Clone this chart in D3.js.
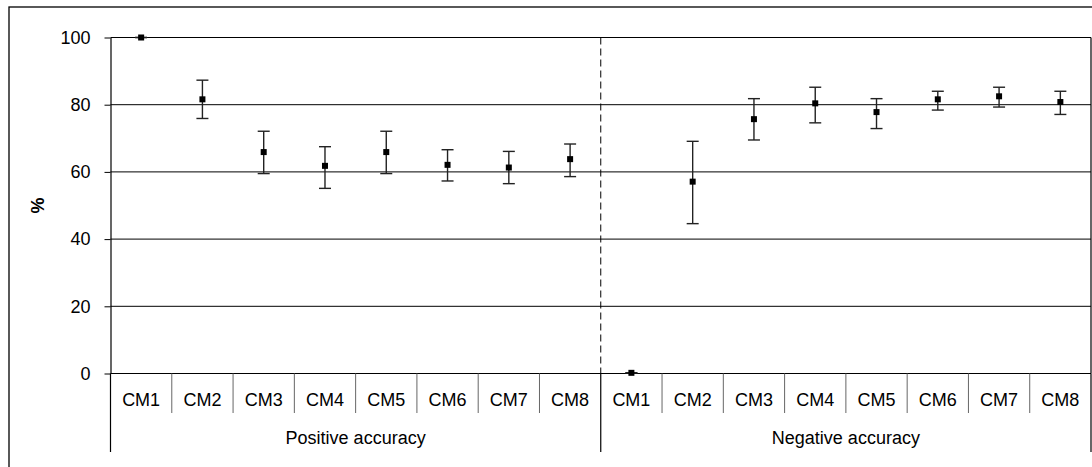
<!DOCTYPE html>
<html>
<head>
<meta charset="utf-8">
<script src="https://cdnjs.cloudflare.com/ajax/libs/d3/7.8.5/d3.min.js"></script>
<style>
  body { margin: 0; background: #fff; }
  svg text { font-family: "Liberation Sans", Arial, sans-serif; fill: #000; }
</style>
</head>
<body>
<div id="chart"></div>
<script>
// chart data
var groups = ["Positive accuracy", "Negative accuracy"];
var models = ["CM1", "CM2", "CM3", "CM4", "CM5", "CM6", "CM7", "CM8"];
var positiveMean = [100, 81.6, 65.9, 61.8, 65.9, 62.1, 61.3, 63.8];
var positiveLow  = [100, 75.9, 59.5, 55.1, 59.5, 57.3, 56.5, 58.6];
var positiveHigh = [100, 87.3, 72.1, 67.5, 72.1, 66.6, 66.1, 68.3];
var negativeMean = [0.2, 57.1, 75.7, 80.4, 77.8, 81.6, 82.5, 80.8];
var negativeLow  = [0.2, 44.6, 69.5, 74.6, 72.9, 78.4, 79.3, 77.1];
var negativeHigh = [0.2, 69.1, 81.8, 85.2, 81.8, 84.0, 85.2, 84.0];
var yTicks = [0, 20, 40, 60, 80, 100];

var width = 1092, height = 467;
var plotLeft = 110.5, plotRight = 1091, plotTop = 37.5, plotBottom = 373.5;

// Build one row per point, keyed by group + model
var points = [];
function addGroup(groupName, means, lows, highs) {
    for (var i = 0; i < models.length; i++) {
        points.push({
            key: groupName + "|" + models[i],
            group: groupName,
            model: models[i],
            mean: means[i],
            low: lows[i],
            high: highs[i]
        });
    }
}
addGroup(groups[0], positiveMean, positiveLow, positiveHigh);
addGroup(groups[1], negativeMean, negativeLow, negativeHigh);

var x = d3.scaleBand()
    .domain(points.map(function(d) { return d.key; }))
    .range([plotLeft, plotRight]);

var y = d3.scaleLinear()
    .domain([0, 100])
    .range([plotBottom, plotTop]);

var svg = d3.select("#chart").append("svg")
    .attr("width", width)
    .attr("height", height);

// outer frame (runs off the bottom/right of the picture)
svg.append("rect")
    .attr("x", 9).attr("y", 7)
    .attr("width", 1100).attr("height", 470)
    .attr("fill", "none")
    .attr("stroke", "#000")
    .attr("stroke-width", 1.3);

// gridlines
svg.append("g").selectAll("line")
    .data(yTicks.filter(function(t) { return t > 0; }))
    .enter().append("line")
    .attr("x1", plotLeft).attr("x2", plotRight)
    .attr("y1", function(d) { return y(d); })
    .attr("y2", function(d) { return y(d); })
    .attr("stroke", "#000")
    .attr("stroke-width", 1);

// y axis
var yAxis = svg.append("g")
    .attr("transform", "translate(" + plotLeft + ",0)")
    .call(d3.axisLeft(y).tickValues(yTicks).tickSize(6).tickPadding(14).tickSizeOuter(0));
yAxis.select(".domain").attr("stroke", "#000").attr("stroke-width", 1.2);
yAxis.selectAll(".tick line").attr("stroke", "#000");
yAxis.selectAll(".tick text")
    .style("font-size", "18px")
    .style("font-family", "Liberation Sans, Arial, sans-serif");

// right edge of plot
svg.append("line")
    .attr("x1", plotRight).attr("x2", plotRight)
    .attr("y1", plotTop).attr("y2", plotBottom)
    .attr("stroke", "#000").attr("stroke-width", 1.2);

// x baseline
svg.append("line")
    .attr("x1", plotLeft).attr("x2", plotRight)
    .attr("y1", plotBottom).attr("y2", plotBottom)
    .attr("stroke", "#000").attr("stroke-width", 1.2);

// dashed divider between the two groups
var dividerX = x(groups[1] + "|" + models[0]);
svg.append("line")
    .attr("x1", dividerX).attr("x2", dividerX)
    .attr("y1", plotTop).attr("y2", plotBottom)
    .attr("stroke", "#000")
    .attr("stroke-width", 1)
    .attr("stroke-dasharray", "7,4");

// category separators
svg.append("g").selectAll("line")
    .data(points.filter(function(d) { return d.model !== models[0]; }))
    .enter().append("line")
    .attr("x1", function(d) { return x(d.key); })
    .attr("x2", function(d) { return x(d.key); })
    .attr("y1", plotBottom).attr("y2", 413)
    .attr("stroke", "#666").attr("stroke-width", 1);

// group separators
var groupEdges = [plotLeft, dividerX, plotRight];
svg.append("g").selectAll("line")
    .data(groupEdges)
    .enter().append("line")
    .attr("x1", function(d) { return d; })
    .attr("x2", function(d) { return d; })
    .attr("y1", plotBottom).attr("y2", 452)
    .attr("stroke", "#000").attr("stroke-width", 1.2);

// category labels
svg.append("g").selectAll("text")
    .data(points)
    .enter().append("text")
    .attr("x", function(d) { return x(d.key) + x.bandwidth() / 2; })
    .attr("y", 406)
    .attr("text-anchor", "middle")
    .style("font-size", "18px")
    .text(function(d) { return d.model; });

// group labels
svg.append("g").selectAll("text")
    .data(groups)
    .enter().append("text")
    .attr("x", function(d, i) { return (groupEdges[i] + groupEdges[i + 1]) / 2; })
    .attr("y", 444)
    .attr("text-anchor", "middle")
    .style("font-size", "18px")
    .text(function(d) { return d; });

// y axis title
svg.append("text")
    .attr("transform", "translate(44," + ((plotTop + plotBottom) / 2) + ") rotate(-90)")
    .attr("text-anchor", "middle")
    .style("font-size", "18px")
    .style("font-weight", "bold")
    .text("%");

// error bars
var capHalf = 6;
var bars = svg.append("g").selectAll("g")
    .data(points)
    .enter().append("g")
    .attr("stroke", "#222")
    .attr("stroke-width", 1.4);

bars.append("line")
    .attr("x1", function(d) { return x(d.key) + x.bandwidth() / 2; })
    .attr("x2", function(d) { return x(d.key) + x.bandwidth() / 2; })
    .attr("y1", function(d) { return y(d.low); })
    .attr("y2", function(d) { return y(d.high); });

bars.append("line")
    .attr("x1", function(d) { return x(d.key) + x.bandwidth() / 2 - capHalf; })
    .attr("x2", function(d) { return x(d.key) + x.bandwidth() / 2 + capHalf; })
    .attr("y1", function(d) { return y(d.high); })
    .attr("y2", function(d) { return y(d.high); });

bars.append("line")
    .attr("x1", function(d) { return x(d.key) + x.bandwidth() / 2 - capHalf; })
    .attr("x2", function(d) { return x(d.key) + x.bandwidth() / 2 + capHalf; })
    .attr("y1", function(d) { return y(d.low); })
    .attr("y2", function(d) { return y(d.low); });

// square markers
var markerSize = 6;
svg.append("g").selectAll("rect")
    .data(points)
    .enter().append("rect")
    .attr("x", function(d) { return x(d.key) + x.bandwidth() / 2 - markerSize / 2; })
    .attr("y", function(d) { return y(d.mean) - markerSize / 2; })
    .attr("width", markerSize)
    .attr("height", markerSize)
    .attr("fill", "#000");
</script>
</body>
</html>
